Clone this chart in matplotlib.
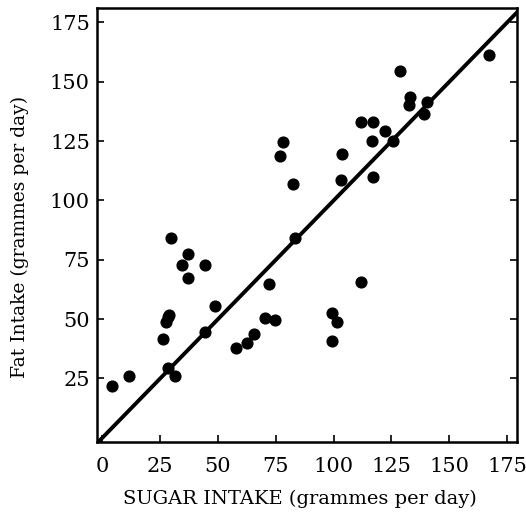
import matplotlib.pyplot as plt

# Sugar vs fat intake
sugar = [4.3, 11.6, 26.3, 27.5, 28.5, 28.9, 29.9, 28.6, 31.4, 34.4, 37.0, 36.9,
         44.4, 44.4, 48.6, 57.7, 62.7, 65.6, 70.3, 71.9, 74.5, 76.8, 78.0, 82.3,
         83.3, 99.5, 101.4, 99.5, 103.1, 103.8, 111.8, 112.0, 117.2, 116.8, 117.1,
         122.2, 125.5, 128.7, 133.1, 132.7, 139.0, 140.3, 167.0]
fat = [21.8, 26.1, 41.6, 48.9, 51.0, 51.7, 84.3, 29.5, 26.0, 72.8, 77.3, 67.5,
       72.8, 44.6, 55.7, 37.9, 39.8, 43.7, 50.6, 64.8, 49.6, 118.8, 124.6, 106.9,
       84.3, 52.4, 48.9, 40.9, 108.7, 119.4, 65.8, 132.9, 132.9, 124.9, 110.1,
       129.1, 124.9, 154.6, 143.8, 140.3, 136.4, 141.7, 161.4]
ticks = [0, 25, 50, 75, 100, 125, 150, 175]

plt.rcParams['font.family'] = ['DejaVu Serif']

fig = plt.figure(figsize=(5.26, 5.15), dpi=100)
ax = fig.add_axes([0.184, 0.142, 0.799, 0.842])

ax.scatter(sugar, fat, s=60, color='black', zorder=3)
ax.plot([-2.4, 179.3], [-2.4, 179.3], color='black', linewidth=2.8)

ax.set_xlim(-2.4, 179.3)
ax.set_ylim(-1.7, 181)
ax.set_xticks(ticks)
ax.set_yticks(ticks[1:])
ax.tick_params(direction='in', length=5, width=1.2, labelsize=15, right=True)
ax.tick_params(axis='x', pad=11)
ax.tick_params(axis='y', pad=5)
for s in ax.spines.values():
    s.set_linewidth(1.8)

ax.set_xlabel('SUGAR INTAKE (grammes per day)', fontsize=14, labelpad=10, x=0.484)
ax.set_ylabel('Fat Intake (grammes per day)', fontsize=13.5, labelpad=15, y=0.472)

fig.savefig('out.png', dpi=100)
